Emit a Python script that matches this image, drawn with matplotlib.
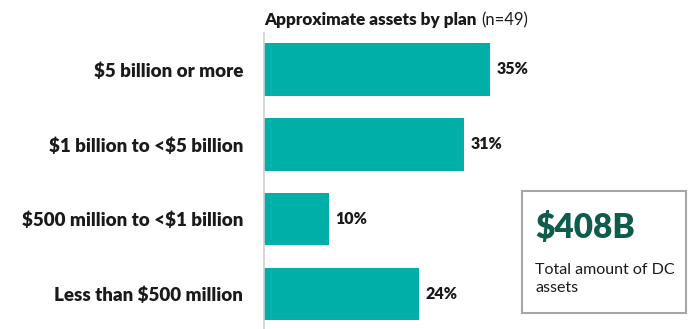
import matplotlib
matplotlib.use("Agg")
from matplotlib import pyplot as plt
from matplotlib.patches import Rectangle

# Datos
categorias = ["$5 billion or more", "$1 billion to <$5 billion",
              "$500 million to <$1 billion", "Less than $500 million"]
porcentajes = [35, 31, 10, 24]
total_activos = "$408B"
total_texto = "Total amount of DC\nassets"

W, H = 694, 329
plt.rcParams["font.family"] = ["Lato", "DejaVu Sans"]
plt.rcParams["text.parse_math"] = False

fig = plt.figure(figsize=(W / 100, H / 100), dpi=100)

# Ejes en coordenadas de pixel
x0, y_top, y_bot = 264, 33, 329
ancho = 226 / 35 * 40
ax = fig.add_axes([x0 / W, 0, ancho / W, (y_bot - y_top) / H])
pos = list(range(len(categorias)))
ax.barh(pos, porcentajes, height=0.7, color="#00b0a8")
ax.set_xlim(0, 40)
ax.set_ylim(3 + 35 / 75, -36.5 / 75)

for p, v in zip(pos, porcentajes):
    ax.text(v + 1.0, p, f"{v}%", va="center", ha="left",
            fontsize=11.5, fontweight="heavy", color="#1a1a1a")

ax.set_yticks(pos)
ax.set_yticklabels(categorias, fontsize=13.5, fontweight="heavy", color="#1a1a1a")
ax.tick_params(axis="y", length=0, pad=15)
ax.set_xticks([])
for lado in ["top", "right", "bottom"]:
    ax.spines[lado].set_visible(False)
ax.spines["left"].set_color("#d0d0d0")
ax.spines["left"].set_linewidth(1.2)

# Titulo
fig.text(264 / W, 1 - 20 / H, "Approximate assets by plan", fontsize=12.3,
         fontweight="heavy", va="center", ha="left", color="#1a1a1a")
fig.text(481 / W, 1 - 20 / H, "(n=49)", fontsize=12,
         va="center", ha="left", color="#1a1a1a")

# Caja con el total
fig.add_artist(Rectangle((522 / W, 1 - 313 / H), 164 / W, 122 / H,
                         transform=fig.transFigure, fill=False,
                         edgecolor="#a6a6a6", linewidth=1.5))
fig.text(535 / W, 1 - 228 / H, total_activos, fontsize=24, fontweight="heavy",
         color="#0d5c4c", va="center", ha="left")
fig.text(535 / W, 1 - 279 / H, total_texto, fontsize=11.5, color="#1a1a1a",
         va="center", ha="left", linespacing=1.3)

fig.savefig("out.png", dpi=100)
